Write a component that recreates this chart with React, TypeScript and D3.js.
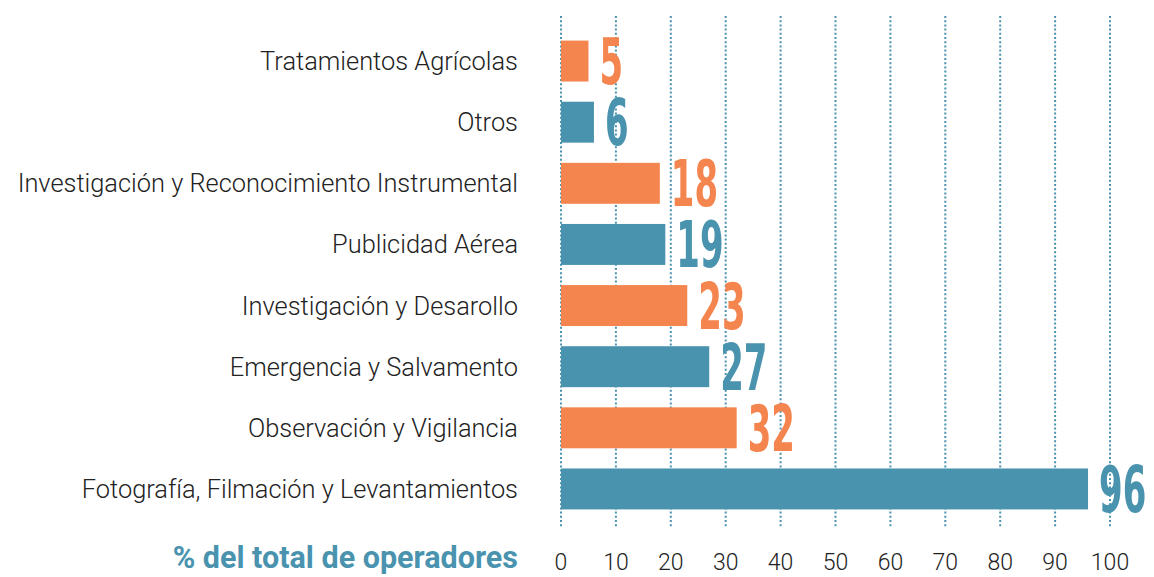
import React, { useEffect, useRef } from "react";
import * as d3 from "d3";

const categories = [
  "Tratamientos Agrícolas",
  "Otros",
  "Investigación y Reconocimiento Instrumental",
  "Publicidad Aérea",
  "Investigación y Desarollo",
  "Emergencia y Salvamento",
  "Observación y Vigilancia",
  "Fotografía, Filmación y Levantamientos",
];
const values = [5, 6, 18, 19, 23, 27, 32, 96];
const ticks = [0, 10, 20, 30, 40, 50, 60, 70, 80, 90, 100];
const axisTitle = "% del total de operadores";

const ORANGE = "#f5854f";
const BLUE = "#4a93af";

const App = () => {
  const svgRef = useRef<SVGSVGElement>(null);

  useEffect(() => {
    const width = 1154;
    const height = 577;
    const svg = d3.select(svgRef.current).attr("width", width).attr("height", height);
    svg.selectAll("*").remove();

    const x = d3.scaleLinear().domain([0, 100]).range([561, 1110]);
    const y = d3
      .scaleBand<string>()
      .domain(categories)
      .range([30.5, 519.5])
      .paddingInner(0.33)
      .paddingOuter(0.165);

    // dotted gridlines
    svg
      .append("g")
      .selectAll("line")
      .data(ticks)
      .enter()
      .append("line")
      .attr("x1", (d) => x(d))
      .attr("x2", (d) => x(d))
      .attr("y1", 16)
      .attr("y2", 528)
      .style("stroke", BLUE)
      .style("stroke-width", 2)
      .style("stroke-dasharray", "2 2.2");

    // tick labels
    svg
      .append("g")
      .selectAll("text")
      .data(ticks)
      .enter()
      .append("text")
      .attr("x", (d) => x(d))
      .attr("y", 570)
      .attr("text-anchor", "middle")
      .style("font-family", "Roboto, sans-serif")
      .style("font-weight", 300)
      .style("font-size", "23px")
      .style("fill", "#222")
      .text((d) => d);

    // bars
    svg
      .append("g")
      .selectAll("rect")
      .data(values)
      .enter()
      .append("rect")
      .attr("x", x(0))
      .attr("y", (d, i) => y(categories[i])!)
      .attr("width", (d) => x(d) - x(0))
      .attr("height", y.bandwidth())
      .style("fill", (d, i) => (i % 2 === 0 ? ORANGE : BLUE));

    // value labels, condensed
    const vals = svg.append("g");
    values.forEach((v, i) => {
      const cx = x(v) + 11;
      const cy = y(categories[i])! + y.bandwidth() / 2;
      vals
        .append("text")
        .attr("transform", `translate(${cx},${cy + 23}) scale(0.74,1.24)`)
        .style("font-family", "'DejaVu Sans Condensed', 'DejaVu Sans', sans-serif")
        .style("font-weight", "bold")
        .style("font-size", "51px")
        .style("fill", i % 2 === 0 ? ORANGE : BLUE)
        .text(v);
    });

    // category labels
    svg
      .append("g")
      .selectAll("text")
      .data(categories)
      .enter()
      .append("text")
      .attr("x", 518)
      .attr("y", (d) => y(d)! + y.bandwidth() / 2 + 9)
      .attr("text-anchor", "end")
      .style("font-family", "Roboto, sans-serif")
      .style("font-weight", 300)
      .style("font-size", "25.4px")
      .style("fill", "#222")
      .text((d) => d);

    // axis title
    svg
      .append("text")
      .attr("x", 518)
      .attr("y", 568)
      .attr("text-anchor", "end")
      .style("font-family", "Roboto, sans-serif")
      .style("font-weight", "bold")
      .style("font-size", "30.5px")
      .style("fill", BLUE)
      .text(axisTitle);
  }, []);

  return <svg ref={svgRef} style={{ position: "absolute", left: 0, top: 0 }}></svg>;
};

export default App;
